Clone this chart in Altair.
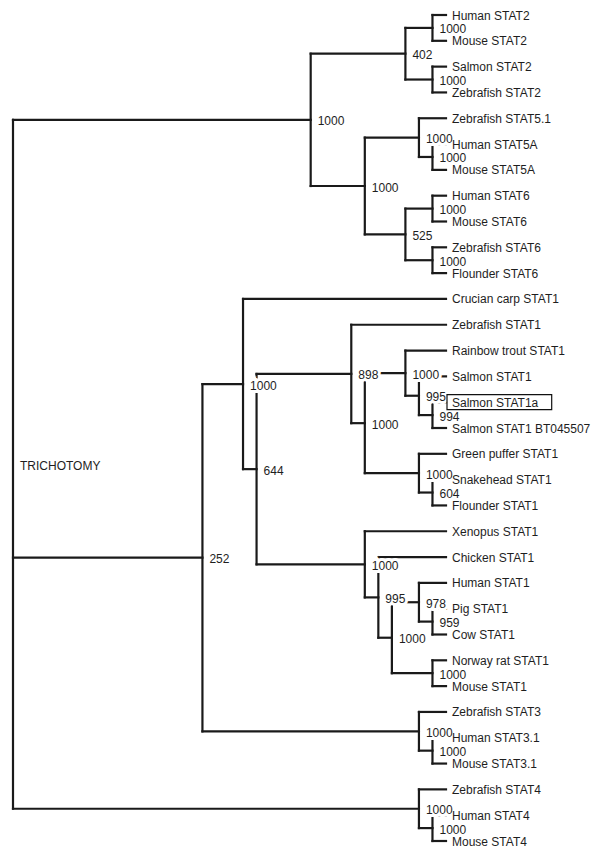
import altair as alt
import pandas as pd

# ---------------- data ----------------
leaf_names = [
    "Human STAT2", "Mouse STAT2", "Salmon STAT2", "Zebrafish STAT2",
    "Zebrafish STAT5.1", "Human STAT5A", "Mouse STAT5A",
    "Human STAT6", "Mouse STAT6", "Zebrafish STAT6", "Flounder STAT6",
    "Crucian carp STAT1", "Zebrafish STAT1", "Rainbow trout STAT1",
    "Salmon STAT1", "Salmon STAT1a", "Salmon STAT1 BT045507",
    "Green puffer STAT1", "Snakehead STAT1", "Flounder STAT1",
    "Xenopus STAT1", "Chicken STAT1", "Human STAT1", "Pig STAT1", "Cow STAT1",
    "Norway rat STAT1", "Mouse STAT1",
    "Zebrafish STAT3", "Human STAT3.1", "Mouse STAT3.1",
    "Zebrafish STAT4", "Human STAT4", "Mouse STAT4",
]
leaf_parent = [
    "S2a", "S2a", "S2b", "S2b",
    "S5", "S5a", "S5a",
    "S6a", "S6a", "S6b", "S6b",
    "A", "N898", "Sal",
    "Sal2", "Sal3", "Sal3",
    "Puf", "Puf2", "Puf2",
    "X", "C", "H", "PC", "PC",
    "Rat", "Rat",
    "S3", "S3a", "S3a",
    "S4", "S4a", "S4a",
]
highlighted = ["Salmon STAT1a"]

node_ids = ["root", "T", "S2", "S2a", "S2b", "S56", "S5", "S5a", "S6", "S6a", "S6b",
            "M", "A", "B", "N898", "N1000a", "Sal", "Sal2", "Sal3", "Puf", "Puf2",
            "X", "C", "Mam", "H", "PC", "Rat", "S3", "S3a", "S4", "S4a"]
node_parent = [None, "root", "T", "S2", "S2", "T", "S56", "S5", "S56", "S6", "S6",
               "root", "M", "A", "B", "N898", "N1000a", "Sal", "Sal2", "N1000a", "Puf",
               "B", "X", "C", "Mam", "H", "Mam", "M", "S3", "root", "S4"]
# depth of each node (cladogram column, leaves sit at 32)
node_depth = [0, 22, 29, 31, 31, 26, 30, 31, 29, 31, 31,
              14, 17, 18, 25, 26, 29, 30, 31, 30, 31,
              26, 27, 28, 30, 31, 31, 30, 31, 30, 31]
node_support = ["TRICHOTOMY", "1000", "402", "1000", "1000", "1000", "1000", "1000", "525", "1000", "1000",
                "252", "1000", "644", "898", "1000", "1000", "995", "994", "1000", "604",
                "1000", "995", "1000", "978", "959", "1000", "1000", "1000", "1000", "1000"]
LEAF_DEPTH = 32

# ---------------- tree layout ----------------
depth = dict(zip(node_ids, node_depth))
parent = dict(zip(node_ids, node_parent))
children = {n: [] for n in node_ids}
for i, (name, p) in enumerate(zip(leaf_names, leaf_parent)):
    children[p].append(("leaf", i))
for n, p in zip(node_ids, node_parent):
    if p is not None:
        children[p].append(("node", n))

ypos = {}


def node_y(n):
    if n in ypos:
        return ypos[n][2]
    ys = []
    for kind, c in children[n]:
        ys.append(float(c) if kind == "leaf" else node_y(c))
    ypos[n] = (min(ys), max(ys), (min(ys) + max(ys)) / 2)
    return ypos[n][2]


for n in node_ids:
    node_y(n)

segs = []
for n in node_ids:
    lo, hi, mid = ypos[n]
    segs.append({"x": depth[n], "x2": depth[n], "y": lo, "y2": hi})
    if parent[n] is not None:
        segs.append({"x": depth[parent[n]], "x2": depth[n], "y": mid, "y2": mid})
for i, p in enumerate(leaf_parent):
    segs.append({"x": depth[p], "x2": LEAF_DEPTH, "y": float(i), "y2": float(i)})
seg_df = pd.DataFrame(segs)

sup_df = pd.DataFrame({
    "x": [depth[n] for n in node_ids],
    "y": [ypos[n][2] for n in node_ids],
    "label": node_support,
})
leaf_df = pd.DataFrame({"x": [LEAF_DEPTH] * len(leaf_names),
                        "y": list(range(len(leaf_names))),
                        "label": leaf_names})

# ---------------- scales ----------------
W, H = 584, 840
TOP, BOTTOM = 7, 833          # pixel rows of first and last leaf
PX_X = 433 / 32.0
PX_Y = (BOTTOM - TOP) / 32.0

# box round highlighted leaf labels (sized from label length)
box_rows = []
for name in highlighted:
    i = leaf_names.index(name)
    box_rows.append({
        "x": LEAF_DEPTH + 1 / PX_X,
        "x2": LEAF_DEPTH + (6 + len(name) * 6.9 + 10) / PX_X,
        "y": i - 7.5 / PX_Y,
        "y2": i + 7.5 / PX_Y,
    })
box_df = pd.DataFrame(box_rows)

xs = alt.Scale(domain=[-5 / PX_X, -5 / PX_X + W / PX_X], nice=False, zero=False)
ys = alt.Scale(domain=[-TOP / PX_Y, -TOP / PX_Y + H / PX_Y], nice=False, zero=False, reverse=True)
FONT = "Liberation Sans"
LINE = "#1a1a1a"
TXT = "#1e1e1e"

lines = alt.Chart(seg_df).mark_rule(color=LINE, strokeWidth=2.2, strokeCap="square").encode(
    x=alt.X("x:Q", scale=xs, axis=None),
    x2="x2:Q",
    y=alt.Y("y:Q", scale=ys, axis=None),
    y2="y2:Q",
)

halo = alt.Chart(sup_df).mark_text(
    align="left", baseline="middle", dx=7, dy=1.5, font=FONT, fontSize=12,
    stroke="white", strokeWidth=6, fill="white",
).encode(x=alt.X("x:Q", scale=xs, axis=None), y=alt.Y("y:Q", scale=ys, axis=None), text="label:N")

sup = alt.Chart(sup_df).mark_text(
    align="left", baseline="middle", dx=7, dy=1.5, font=FONT, fontSize=12, color=TXT,
).encode(x=alt.X("x:Q", scale=xs, axis=None), y=alt.Y("y:Q", scale=ys, axis=None), text="label:N")

box = alt.Chart(box_df).mark_rect(fill="white", fillOpacity=0, stroke="#111111", strokeWidth=1.2).encode(
    x=alt.X("x:Q", scale=xs, axis=None), x2="x2:Q",
    y=alt.Y("y:Q", scale=ys, axis=None), y2="y2:Q",
)

leaves = alt.Chart(leaf_df).mark_text(
    align="left", baseline="middle", dx=6, dy=0.5, font=FONT, fontSize=12, color=TXT,
).encode(x=alt.X("x:Q", scale=xs, axis=None), y=alt.Y("y:Q", scale=ys, axis=None), text="label:N")

chart = alt.layer(lines, halo, sup, box, leaves).properties(
    width=W, height=H, padding=0, autosize=alt.AutoSizeParams(type="none"),
    background="white",
).configure_view(stroke=None)

chart.save("out.html", embed_options={"renderer": "svg", "actions": False})
